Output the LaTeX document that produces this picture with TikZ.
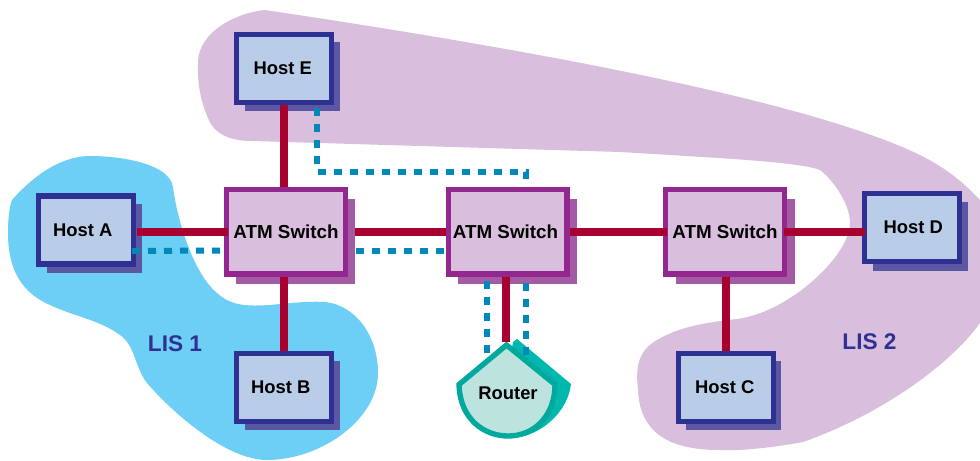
\documentclass[tikz,border=0pt]{standalone}
\usepackage{fontspec}
\setmainfont{Liberation Sans}
\usetikzlibrary{calc}
\definecolor{lisblue}{HTML}{6DCFF6}
\definecolor{lismauve}{HTML}{D9BFDD}
\definecolor{hostfill}{HTML}{B9CDE9}
\definecolor{hostline}{HTML}{2E3192}
\definecolor{hostshade}{HTML}{5B57A2}
\definecolor{switchline}{HTML}{92278F}
\definecolor{switchshade}{HTML}{A35BA3}
\definecolor{linkred}{HTML}{A8002F}
\definecolor{linkblue}{HTML}{0088BB}
\definecolor{routerfill}{HTML}{BDE3DF}
\definecolor{routerline}{HTML}{00A99D}
\definecolor{routershade}{HTML}{00B8AD}
\tikzset{
	hostbox/.style={draw=hostline, fill=hostfill, line width=4pt, minimum width=71pt, minimum height=51pt, inner sep=0pt, font=\fontsize{13.8}{16}\selectfont\bfseries},
	switchbox/.style={draw=switchline, fill=lismauve, line width=4pt, minimum width=89pt, minimum height=63.5pt, inner sep=0pt, font=\fontsize{14.1}{16}\selectfont\bfseries},
	atmlink/.style={draw=linkred, line width=6pt},
	lislink/.style={draw=linkblue, line width=4.5pt, dash pattern=on 6pt off 6pt},
	lislabel/.style={text=hostline, font=\fontsize{17}{20}\selectfont\bfseries}
}

\begin{document}
\begin{tikzpicture}[x=0.75pt, y=-0.75pt]
		%%%%% START %%%%%
		\useasboundingbox (0, 0) rectangle (980, 460);
		
		\fill[lisblue] (90, 156) .. controls (125, 156) and (170, 165) .. (173, 187) .. controls (178, 225) and (195, 275) .. (217, 293) .. controls (232, 307) and (250, 306) .. (270, 305) .. controls (290, 303) and (310, 301) .. (325, 302) .. controls (355, 305) and (378, 335) .. (378, 373) .. controls (378, 420) and (320, 460) .. (267, 460) .. controls (225, 460) and (170, 410) .. (147, 383) .. controls (135, 368) and (135, 345) .. (120, 335) .. controls (100, 320) and (70, 315) .. (50, 305) .. controls (15, 290) and (8, 260) .. (8, 233) .. controls (8, 215) and (10, 205) .. (12, 200) .. controls (25, 185) and (55, 156) .. (90, 156) -- cycle;
		\fill[lismauve] (265, 10) .. controls (500, 45) and (800, 97) .. (920, 155) .. controls (950, 170) and (975, 190) .. (1000, 225) .. controls (1005, 270) and (1000, 300) .. (980, 323) .. controls (950, 365) and (880, 415) .. (803, 442) .. controls (770, 448) and (740, 451) .. (720, 450) .. controls (680, 450) and (640, 440) .. (638, 390) .. controls (636, 370) and (636, 352) .. (657, 340) .. controls (680, 326) and (710, 322) .. (737, 319) .. controls (790, 312) and (850, 255) .. (850, 223) .. controls (850, 205) and (835, 182) .. (820, 170) .. controls (800, 162) and (720, 158) .. (620, 152) -- (253, 141) .. controls (235, 141) and (215, 137) .. (208, 118) .. controls (200, 100) and (197, 80) .. (198, 63) .. controls (198, 30) and (240, 12) .. (265, 10) -- cycle;
		
		\fill[hostshade] (47, 204) rectangle (142, 273);
		\fill[hostshade] (245, 42) rectangle (340, 111);
		\fill[hostshade] (245, 361) rectangle (340, 430);
		\fill[hostshade] (686, 361) rectangle (781, 430);
		\fill[hostshade] (873, 202) rectangle (968, 271);
		\fill[switchshade] (236, 199) rectangle (355, 284);
		\fill[switchshade] (458, 199) rectangle (577, 284);
		\fill[switchshade] (676, 199) rectangle (795, 284);
		
		\node[hostbox] (hosta) at (86, 230) {\hspace*{-5pt}Host A};
		\node[hostbox] (hoste) at (284, 68.5) {\hspace*{-2pt}Host E};
		\node[hostbox] (hostb) at (284, 387.5) {\hspace*{-5pt}Host B};
		\node[hostbox] (hostc) at (726, 387.5) {\hspace*{-2pt}Host C};
		\node[hostbox] (hostd) at (912, 227.5) {\hspace*{2pt}Host D};
		
		\node[switchbox] (sw1) at (286, 231.5) {ATM Switch};
		\node[switchbox] (sw2) at (507.5, 231.5) {\hspace*{-3pt}ATM Switch};
		\node[switchbox] (sw3) at (725, 231.5) {ATM Switch};
		
		\coordinate (routertop) at (506, 342);
		\fill[routershade] (513, 342) -- (517, 339) -- (571, 384) .. controls (568, 410) and (545, 432) .. (520, 437) -- (500, 420) -- cycle;
		
		\draw[lislink] ($(hoste.south)+(33, 3)$) |- ($(sw2.north)+(18.5, -15)$) -- ($(sw2.north)+(18.5, 0)$);
		\draw[lislink] ($(hosta.east)+(-4, 21)$) -- ($(sw1.west)+(0, 19)$);
		\draw[lislink] ($(sw1.east)+(8, 19)$) -- ($(sw2.west)+(0, 19)$);
		\draw[lislink] ($(sw2.south)+(-21, 4)$) -- ($(sw2.south)+(-21, 76)$);
		\draw[lislink] ($(sw2.south)+(18.5, 6.5)$) -- ($(sw2.south)+(18.5, 78)$);
		
		\draw[draw=routerline, fill=routerfill, line width=4pt, line join=miter] (506.5, 345) -- (459, 384.5) .. controls (460, 420) and (485, 436) .. (508, 436) .. controls (535, 436) and (555, 415) .. (555, 384.5) -- cycle;
		\node[inner sep=0pt, font=\fontsize{13.8}{16}\selectfont\bfseries] (router) at (508, 393) {Router};
		
		\draw[atmlink, shorten <=0.75pt, shorten >=-3pt] (hosta.east |- sw1.west) -- (sw1.west);
		\draw[atmlink, shorten <=5.25pt] (sw1.east) -- (sw2.west);
		\draw[atmlink, shorten >=-3pt] (sw2.east) -- (sw3.west);
		\draw[atmlink, shorten <=-2.25pt, shorten >=-2.25pt] (sw3.east) -- (sw3.east -| hostd.west);
		\draw[atmlink] (hoste.south) -- (hoste.south |- sw1.north);
		\draw[atmlink] (hostb.north |- sw1.south) -- (hostb.north);
		\draw[atmlink] (hostc.north |- sw3.south) -- (hostc.north);
		\draw[atmlink] (sw2.south -| routertop) -- (routertop);
		
		\node[lislabel] (lisone) at (175, 344) {LIS 1};
		\node[lislabel] (listwo) at (869.5, 342) {LIS 2};
		%%%%% END %%%%%
	\end{tikzpicture}
\end{document}
